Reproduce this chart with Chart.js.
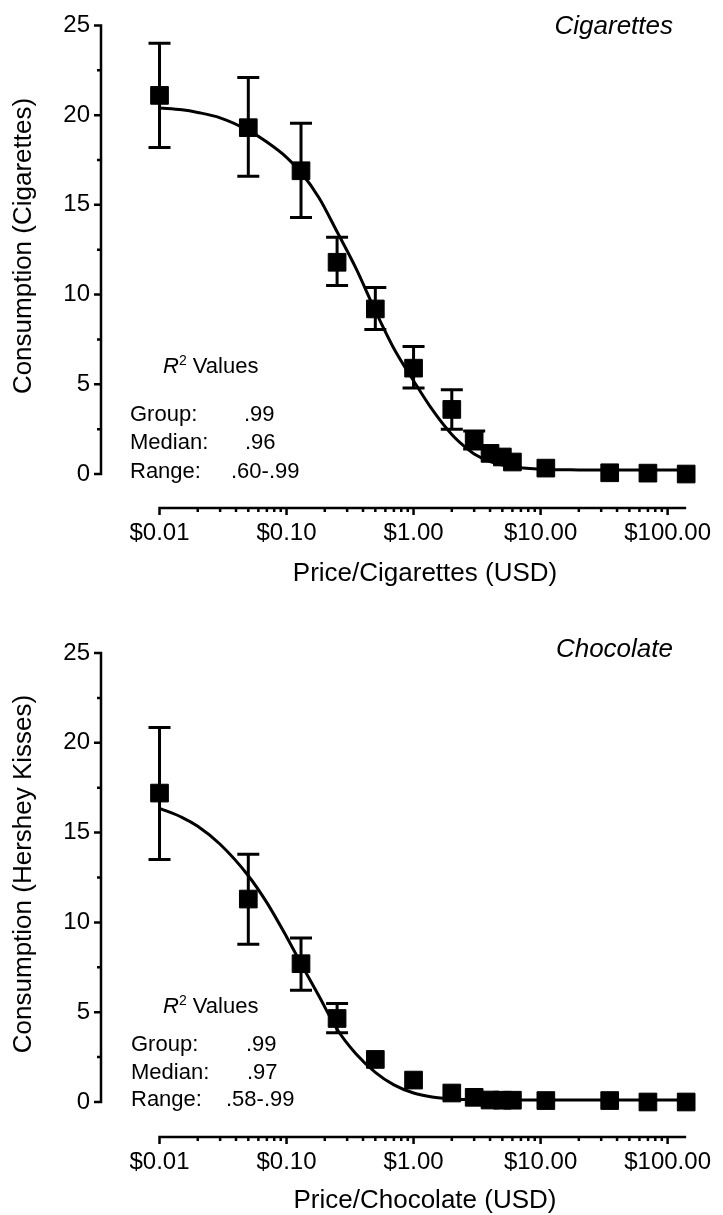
<!DOCTYPE html>
<html>
<head>
<meta charset="utf-8">
<script src="https://cdn.jsdelivr.net/npm/chart.js@4.4.0/dist/chart.umd.min.js"></script>
<style>
  html, body { margin: 0; padding: 0; background: #fff; }
  body { width: 723px; height: 1215px; position: relative; overflow: hidden;
         font-family: "Liberation Sans", Arial, sans-serif; color: #000; }
  canvas { position: absolute; left: 0; }
  .txt { position: absolute; white-space: nowrap; line-height: 1; transform: translateY(-50%); }
  .ytitle { position: absolute; white-space: nowrap; line-height: 1; font-size: 26px;
            transform: translate(-50%, -50%) rotate(-90deg); }
  .xtitle { position: absolute; white-space: nowrap; line-height: 1; font-size: 26px;
            transform: translate(-50%, -50%); }
  .panel { font-style: italic; font-size: 26px; transform: translate(-100%, -50%); }
  .r2 { font-size: 22px; }
  .r2 sup { font-size: 14px; position: relative; top: -8px; vertical-align: baseline; }
</style>
</head>
<body>
<canvas id="cigChart" width="723" height="620" style="top:0"></canvas>
<canvas id="chocChart" width="723" height="595" style="top:620px"></canvas>

<script>
// prices used in the purchase task (USD)
const prices = [0.01, 0.05, 0.13, 0.25, 0.5, 1, 2, 3, 4, 5, 6, 11, 35, 70, 140];

// cigarettes: mean consumption and error bar ends
const cigMean  = [21.1, 19.3, 16.9, 11.8, 9.2, 5.9, 3.6, 1.9, 1.15, 0.95, 0.67, 0.33, 0.07, 0.05, 0.0];
const cigUpper = [24.0, 22.1, 19.55, 13.2, 10.4, 7.1, 4.7, 2.4, null, null, null, null, null, null, null];
const cigLower = [18.2, 16.6, 14.3, 10.5, 8.05, 4.8, 2.5, 1.4, null, null, null, null, null, null, null];

// chocolate: mean consumption and error bar ends
const chocMean  = [17.2, 11.3, 7.7, 4.65, 2.37, 1.22, 0.5, 0.26, 0.11, 0.1, 0.1, 0.08, 0.08, 0.0, 0.0];
const chocUpper = [20.85, 13.8, 9.13, 5.48, null, null, null, null, null, null, null, null, null, null, null];
const chocLower = [13.5, 8.78, 6.22, 3.85, null, null, null, null, null, null, null, null, null, null, null];

// fitted demand curves
const curvePrices = [0.01, 0.015, 0.02, 0.03, 0.05, 0.07, 0.1, 0.13, 0.18, 0.25, 0.35, 0.5, 0.7, 1,
                     1.4, 2, 2.5, 3, 4, 6, 10, 20, 50, 140];
const cigFit  = [20.4, 20.3, 20.15, 19.85, 19.15, 18.5, 17.65, 16.8, 15.4, 13.5, 11.5, 9.1, 7.0, 5.2,
                 3.6, 2.2, 1.55, 1.12, 0.7, 0.4, 0.27, 0.23, 0.22, 0.22];
const chocFit = [16.35, 15.85, 15.35, 14.35, 12.6, 11.1, 9.2, 7.7, 5.9, 4.05, 2.7, 1.65, 0.95, 0.5,
                 0.28, 0.17, 0.14, 0.13, 0.12, 0.11, 0.11, 0.11, 0.11, 0.11];

// axis ticks
const xMajor = [0.01, 0.1, 1, 10, 100];
const xLabels = ['$0.01', '$0.10', '$1.00', '$10.00', '$100.00'];
const yTicks = [0, 2.5, 5, 7.5, 10, 12.5, 15, 17.5, 20, 22.5, 25];

const FONT = '"Liberation Sans", Arial, sans-serif';

// minor log ticks 2..9 within each decade
const xTicks = [];
xMajor.forEach(d => {
  xTicks.push({ value: d, major: true });
  for (let m = 2; m <= 9; m++) {
    if (d * m <= 140) xTicks.push({ value: d * m, major: false });
  }
});

// Prism style axes: detached x axis, short minor ticks, error bars
const prismPlugin = {
  id: 'prism',
  beforeDatasetsDraw(chart) {
    const ctx = chart.ctx, xs = chart.scales.x, ys = chart.scales.y;
    const eb = chart.options.plugins.prism;
    ctx.save();
    ctx.strokeStyle = '#000';
    ctx.lineWidth = 3;
    prices.forEach((p, i) => {
      if (eb.upper[i] == null) return;
      const px = xs.getPixelForValue(p);
      const top = ys.getPixelForValue(eb.upper[i]);
      const bot = ys.getPixelForValue(eb.lower[i]);
      ctx.beginPath();
      ctx.moveTo(px, top); ctx.lineTo(px, bot);
      ctx.moveTo(px - 11, top); ctx.lineTo(px + 11, top);
      ctx.moveTo(px - 11, bot); ctx.lineTo(px + 11, bot);
      ctx.stroke();
    });
    ctx.restore();
  },
  afterDraw(chart) {
    const ctx = chart.ctx, xs = chart.scales.x, ys = chart.scales.y;
    const area = chart.chartArea;
    ctx.save();
    ctx.strokeStyle = '#000';
    ctx.lineWidth = 2.5;
    // y axis from 0 to 25
    const xl = area.left;
    ctx.beginPath();
    ctx.moveTo(xl, ys.getPixelForValue(0) + 1.25);
    ctx.lineTo(xl, ys.getPixelForValue(25) - 1.25);
    yTicks.forEach(v => {
      const py = ys.getPixelForValue(v);
      const len = v % 5 === 0 ? 7 : 4;
      ctx.moveTo(xl + 1.25, py); ctx.lineTo(xl - len, py);
    });
    // x axis from $0.01 to the end
    const yb = area.bottom;
    ctx.moveTo(xs.getPixelForValue(0.01) - 1.25, yb);
    ctx.lineTo(area.right, yb);
    xTicks.forEach(t => {
      const px = xs.getPixelForValue(t.value);
      ctx.moveTo(px, yb - 1.25); ctx.lineTo(px, yb + (t.major ? 7 : 4));
    });
    ctx.stroke();
    ctx.restore();
  }
};

function makeChart(id, mean, upper, lower, fit, geo) {
  // geo: canvas height, pixel of y=25, y=0, x axis line, x label padding
  const ppu = (geo.zeroY - geo.topY) / 25;
  const yMin = 25 - (geo.axisY - geo.topY) / ppu;
  const decade = (691 - 160) / Math.log10(140 / 0.01);
  const xMin = 0.01 / Math.pow(10, (160 - 101) / decade);

  return new Chart(document.getElementById(id), {
    type: 'line',
    data: {
      datasets: [
        {
          data: curvePrices.map((p, i) => ({ x: p, y: fit[i] })),
          borderColor: '#000',
          borderWidth: 3,
          pointRadius: 0,
          cubicInterpolationMode: 'monotone',
          fill: false,
          order: 2
        },
        {
          data: prices.map((p, i) => ({ x: p, y: mean[i] })),
          showLine: false,
          pointStyle: 'rect',
          pointRadius: 12.5,
          backgroundColor: '#000',
          borderColor: '#000',
          borderWidth: 1,
          clip: false,
          order: 1
        }
      ]
    },
    options: {
      responsive: false,
      animation: false,
      devicePixelRatio: 1,
      layout: { padding: { left: 0, right: 32, top: geo.topY, bottom: 0 } },
      plugins: {
        legend: { display: false },
        tooltip: { enabled: false },
        prism: { upper: upper, lower: lower }
      },
      scales: {
        x: {
          type: 'logarithmic',
          min: xMin,
          max: 140,
          grid: { display: false, drawTicks: false },
          border: { display: false },
          afterBuildTicks: s => { s.ticks = xTicks.map(t => ({ value: t.value, major: t.major })); },
          afterFit: s => { s.height = geo.h - geo.axisY; },
          ticks: {
            autoSkip: false,
            maxRotation: 0,
            padding: geo.xPad,
            color: '#000',
            font: { family: FONT, size: 24 },
            callback: v => {
              const k = xMajor.findIndex(m => Math.abs(m - v) < m * 1e-6);
              return k >= 0 ? xLabels[k] : '';
            }
          }
        },
        y: {
          type: 'linear',
          min: yMin,
          max: 25,
          grid: { display: false, drawTicks: false },
          border: { display: false },
          afterBuildTicks: s => { s.ticks = yTicks.map(v => ({ value: v })); },
          afterFit: s => { s.width = 101; },
          ticks: {
            padding: 11,
            color: '#000',
            font: { family: FONT, size: 24 },
            callback: v => (v % 5 === 0 ? String(v) : '')
          }
        }
      }
    },
    plugins: [prismPlugin]
  });
}

makeChart('cigChart', cigMean, cigUpper, cigLower, cigFit,
  { h: 620, topY: 25, zeroY: 474, axisY: 508, xPad: 11 });
makeChart('chocChart', chocMean, chocUpper, chocLower, chocFit,
  { h: 595, topY: 33, zeroY: 482, axisY: 517, xPad: 11 });

// text annotations
function addText(html, x, y, cls) {
  const d = document.createElement('div');
  d.className = cls;
  d.innerHTML = html;
  d.style.left = x + 'px';
  d.style.top = y + 'px';
  document.body.appendChild(d);
}

addText('Cigarettes', 673, 25, 'txt panel');
addText('Consumption (Cigarettes)', 22, 246, 'ytitle');
addText('Price/Cigarettes (USD)', 425, 572, 'xtitle');
addText('<i>R</i><sup>2</sup> Values', 163, 366, 'txt r2');
addText('Group:', 130, 414, 'txt r2');
addText('.99', 244, 414, 'txt r2');
addText('Median:', 130, 442, 'txt r2');
addText('.96', 245, 442, 'txt r2');
addText('Range:', 130, 471, 'txt r2');
addText('.60-.99', 231, 471, 'txt r2');

addText('Chocolate', 673, 648, 'txt panel');
addText('Consumption (Hershey Kisses)', 22, 874, 'ytitle');
addText('Price/Chocolate (USD)', 425, 1199, 'xtitle');
addText('<i>R</i><sup>2</sup> Values', 163, 1006, 'txt r2');
addText('Group:', 131, 1044, 'txt r2');
addText('.99', 246, 1044, 'txt r2');
addText('Median:', 131, 1072, 'txt r2');
addText('.97', 247, 1072, 'txt r2');
addText('Range:', 131, 1099, 'txt r2');
addText('.58-.99', 226, 1099, 'txt r2');
</script>
</body>
</html>
